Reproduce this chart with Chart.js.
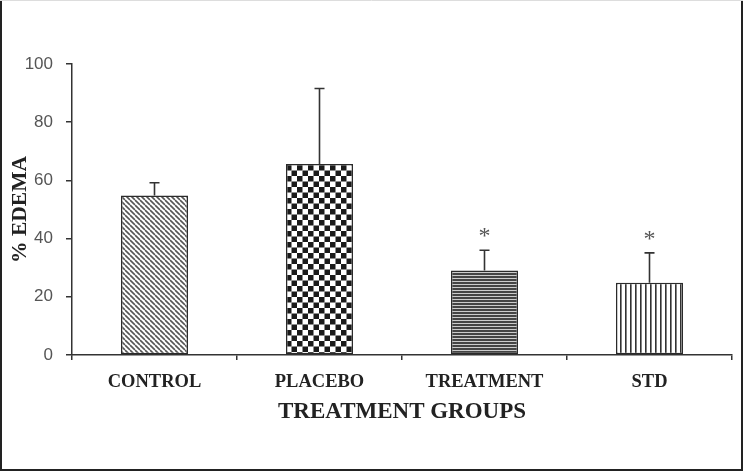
<!DOCTYPE html>
<html>
<head>
<meta charset="utf-8">
<script src="https://cdn.jsdelivr.net/npm/chart.js@4"></script>
<style>
  html, body { margin: 0; padding: 0; background: #fff; }
  #wrap { width: 743px; height: 471px; }
</style>
</head>
<body>
<div id="wrap"><canvas id="edemaChart" width="743" height="471"></canvas></div>
<script>
// Chart data
const groups = ['CONTROL', 'PLACEBO', 'TREATMENT', 'STD'];
const edema = [54.8, 65.6, 29, 24.8];
const edemaSD = [4.4, 26, 7, 10.3];
const significance = ['', '', '*', '*'];
const yTicks = [0, 20, 40, 60, 80, 100];

// Build hatch patterns
function makePattern(kind) {
    const c = document.createElement('canvas');
    const g = c.getContext('2d');
    if (kind === 'diag') {
        const s = 5;
        c.width = s; c.height = s;
        g.fillStyle = '#fff';
        g.fillRect(0, 0, s, s);
        g.strokeStyle = '#555';
        g.lineWidth = 1.6;
        for (let k = -1; k <= 1; k++) {
            g.beginPath();
            g.moveTo(k * s, 0);
            g.lineTo(k * s + s, s);
            g.stroke();
        }
    } else if (kind === 'check') {
        const s = 11;
        c.width = s; c.height = s;
        g.fillStyle = '#fff';
        g.fillRect(0, 0, s, s);
        g.fillStyle = '#1a1a1a';
        g.fillRect(0, 0, 5.5, 5.5);
        g.fillRect(5.5, 5.5, 5.5, 5.5);
    } else if (kind === 'horiz') {
        c.width = 3; c.height = 3;
        g.fillStyle = '#ccc';
        g.fillRect(0, 0, 3, 3);
        g.fillStyle = '#444';
        g.fillRect(0, 0, 3, 2);
    } else if (kind === 'vert') {
        c.width = 5.6; c.height = 4;
        g.fillStyle = '#fff';
        g.fillRect(0, 0, 6, 4);
        g.fillStyle = '#333';
        g.fillRect(0, 0, 1.6, 4);
    }
    return g.createPattern(c, 'repeat');
}

const fills = [makePattern('diag'), makePattern('check'), makePattern('horiz'), makePattern('vert')];

// Upper error bars + significance marks
const errorBars = {
    id: 'errorBars',
    afterDatasetsDraw(chart) {
        const ctx = chart.ctx;
        const meta = chart.getDatasetMeta(0);
        const y = chart.scales.y;
        ctx.save();
        ctx.strokeStyle = '#333';
        ctx.lineWidth = 1.6;
        meta.data.forEach((bar, i) => {
            const top = y.getPixelForValue(edema[i] + edemaSD[i]);
            ctx.beginPath();
            ctx.moveTo(bar.x, bar.y);
            ctx.lineTo(bar.x, top);
            ctx.moveTo(bar.x - 5, top);
            ctx.lineTo(bar.x + 5, top);
            ctx.stroke();
            if (significance[i]) {
                ctx.fillStyle = '#555';
                ctx.font = '24px "Liberation Serif", serif';
                ctx.textAlign = 'center';
                ctx.textBaseline = 'alphabetic';
                ctx.fillText(significance[i], bar.x, top - 7);
            }
        });
        ctx.restore();
    }
};

// Frame around the figure
const frame = {
    id: 'frame',
    afterDraw(chart) {
        const ctx = chart.ctx;
        ctx.save();
        ctx.strokeStyle = '#222';
        ctx.lineWidth = 2;
        ctx.beginPath();
        ctx.moveTo(1, 0);
        ctx.lineTo(1, chart.height - 1);
        ctx.lineTo(chart.width - 1, chart.height - 1);
        ctx.lineTo(chart.width - 1, 0);
        ctx.stroke();
        ctx.strokeStyle = '#ddd';
        ctx.lineWidth = 1;
        ctx.beginPath();
        ctx.moveTo(0, 0.5);
        ctx.lineTo(chart.width, 0.5);
        ctx.stroke();
        ctx.restore();
    }
};

const ctx = document.getElementById('edemaChart').getContext('2d');
new Chart(ctx, {
    type: 'bar',
    data: {
        labels: groups,
        datasets: [{
            data: edema,
            backgroundColor: fills,
            borderColor: '#2a2a2a',
            borderWidth: 1.5,
            borderSkipped: false,
            barPercentage: 0.406,
            categoryPercentage: 1
        }]
    },
    options: {
        responsive: false,
        animation: false,
        devicePixelRatio: 1,
        layout: { padding: { top: 64, right: 11, bottom: 0, left: 0 } },
        plugins: {
            legend: { display: false },
            tooltip: { enabled: false }
        },
        scales: {
            x: {
                afterFit(scale) { scale.height = 116; },
                border: { color: '#333', width: 1.5 },
                grid: { display: true, drawOnChartArea: false, tickLength: 5, color: '#333', lineWidth: 1.5, offset: true },
                ticks: {
                    color: '#222',
                    padding: 11,
                    font: { family: '"Liberation Serif", serif', size: 18.5, weight: 'bold' }
                },
                title: {
                    display: true,
                    text: 'TREATMENT GROUPS',
                    color: '#222',
                    font: { family: '"Liberation Serif", serif', size: 23, weight: 'bold' },
                    padding: { top: 0, bottom: 45 }
                }
            },
            y: {
                min: 0,
                max: 100,
                afterFit(scale) { scale.width = 72; },
                afterBuildTicks(scale) { scale.ticks = yTicks.map(v => ({ value: v })); },
                border: { color: '#333', width: 1.5 },
                grid: { display: true, drawOnChartArea: false, tickLength: 6, color: '#333', lineWidth: 1.5 },
                ticks: {
                    color: '#555',
                    padding: 13,
                    font: { family: '"Liberation Sans", sans-serif', size: 17 }
                },
                title: {
                    display: true,
                    text: '% EDEMA',
                    color: '#222',
                    font: { family: '"Liberation Serif", serif', size: 21.5, weight: 'bold' },
                    padding: { top: 8, bottom: 0 }
                }
            }
        }
    },
    plugins: [errorBars, frame]
});
</script>
</body>
</html>
